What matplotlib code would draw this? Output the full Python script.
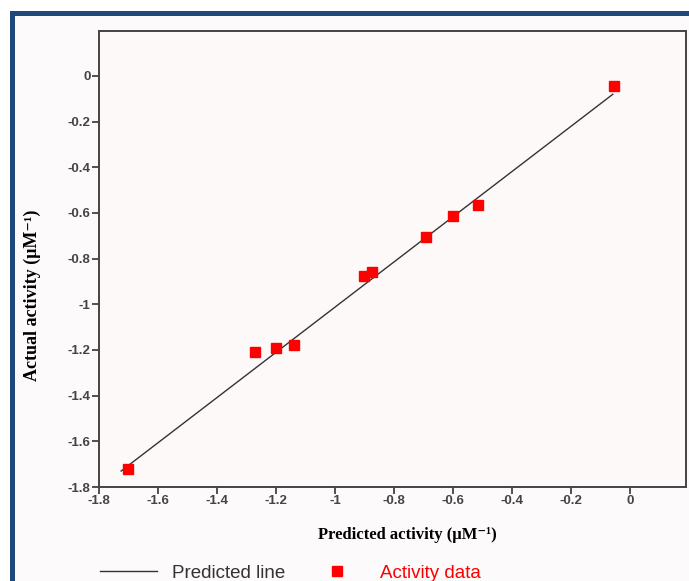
import matplotlib
matplotlib.use("Agg")
import matplotlib.pyplot as plt
from matplotlib.patches import Rectangle

# Data
pred_x = [-1.70, -1.27, -1.20, -1.14, -0.90, -0.876, -0.69, -0.60, -0.516, -0.054]
act_y = [-1.72, -1.21, -1.19, -1.18, -0.876, -0.858, -0.705, -0.613, -0.565, -0.044]
line_x = [-1.725, -0.058]
line_y = [-1.730, -0.080]
x_ticks = [-1.8, -1.6, -1.4, -1.2, -1.0, -0.8, -0.6, -0.4, -0.2, 0.0]
x_tick_labels = ["-1.8", "-1.6", "-1.4", "-1.2", "-1", "-0.8", "-0.6", "-0.4", "-0.2", "0"]
y_ticks = [0.0, -0.2, -0.4, -0.6, -0.8, -1.0, -1.2, -1.4, -1.6, -1.8]
y_tick_labels = ["0", "-0.2", "-0.4", "-0.6", "-0.8", "-1", "-1.2", "-1.4", "-1.6", "-1.8"]

W, H = 689, 581
fig = plt.figure(figsize=(W / 100, H / 100), dpi=100, facecolor="white")

# background panel and blue frame
fig.patches.append(Rectangle((15 / W, 0), 1 - 15 / W, 1 - 16 / H, transform=fig.transFigure,
                             facecolor="#fcfafa", edgecolor="none", zorder=-10))
fig.patches.append(Rectangle((10 / W, 1 - 16 / H), 1 - 10 / W, 4.5 / H, transform=fig.transFigure,
                             facecolor="#1f497d", edgecolor="none", zorder=-5))
fig.patches.append(Rectangle((10 / W, 0), 5 / W, 1 - 12 / H, transform=fig.transFigure,
                             facecolor="#1f497d", edgecolor="none", zorder=-5))

ax = fig.add_axes([99 / W, 1 - 487 / H, (686 - 99) / W, (487 - 31) / H])
ax.set_facecolor("#fdf9f9")

ln, = ax.plot(line_x, line_y, color="#333333", lw=1.0, label="Predicted line")
pts, = ax.plot(pred_x, act_y, ls="none", marker="s", ms=7, color="#ff0000",
               mec="#ff0000", label="Activity data")

ax.set_xlim(-1.8, 0.19)
ax.set_ylim(-1.8, 0.197)
ax.set_xticks(x_ticks)
ax.set_xticklabels(x_tick_labels)
ax.set_yticks(y_ticks)
ax.set_yticklabels(y_tick_labels)
ax.tick_params(direction="out", length=5, width=1.2, color="#333333",
               labelsize=9.5, labelcolor="#444444", pad=1.0)
for lab in ax.get_xticklabels() + ax.get_yticklabels():
    lab.set_family(["Liberation Sans", "DejaVu Sans"])
    lab.set_fontweight("bold")
for s in ax.spines.values():
    s.set_color("#444444")
    s.set_linewidth(1.4)

ax.set_xlabel("Predicted activity (μM⁻¹)", family=["Liberation Serif", "DejaVu Serif"],
              fontweight="bold", fontsize=12, color="black")
ax.set_ylabel("Actual activity (μM⁻¹)", family=["Liberation Serif", "DejaVu Serif"],
              fontweight="bold", fontsize=13, color="black")
ax.xaxis.set_label_coords(0.526, -0.088)
ax.yaxis.set_label_coords(-0.099, 0.421)

leg = fig.legend(handles=[ln, pts], loc="center left", bbox_to_anchor=(100 / W, 1 - 573 / H),
                 ncol=2, frameon=False, handlelength=3.05, handletextpad=0.8,
                 columnspacing=1.2, borderpad=0, borderaxespad=0,
                 prop={"family": ["Liberation Sans", "DejaVu Sans"], "size": 13.5},
                 labelcolor=["#333333", "#ff0000"])

fig.savefig("out.png", dpi=100, facecolor="white")
